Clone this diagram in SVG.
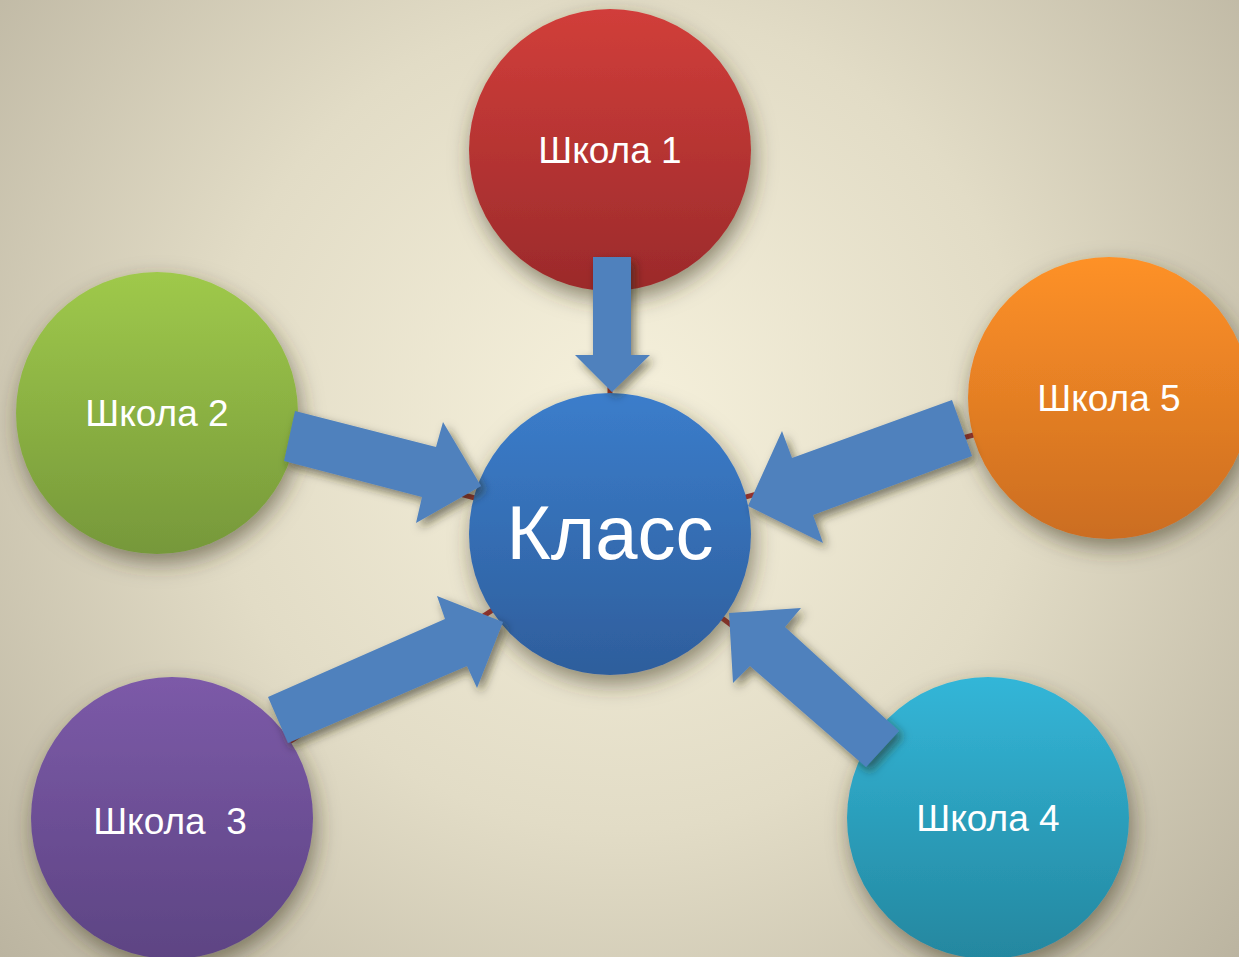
<svg xmlns="http://www.w3.org/2000/svg" width="1239" height="957" viewBox="0 0 1239 957">
<style>
.lbl{font-family:"Liberation Sans",Arial,sans-serif;fill:#ffffff;text-anchor:middle;white-space:pre}
.s{font-size:37px}
.big{font-size:76px}
.arrow{fill:#4f81bd;filter:url(#ash)}
.conn{stroke:#a8332f;stroke-width:5;fill:none}
</style>
<defs>
<radialGradient id="bg" cx="620" cy="420" r="820" gradientUnits="userSpaceOnUse">
<stop offset="0" stop-color="#f6f1dc"/>
<stop offset="0.5" stop-color="#e2dcc6"/>
<stop offset="1" stop-color="#bbb4a0"/>
</radialGradient>
<linearGradient id="gRed" x1="0" y1="0" x2="0" y2="1"><stop offset="0" stop-color="#d13e3a"/><stop offset="1" stop-color="#9b2a2b"/></linearGradient>
<linearGradient id="gGreen" x1="0" y1="0" x2="0" y2="1"><stop offset="0" stop-color="#9fc94b"/><stop offset="1" stop-color="#76983a"/></linearGradient>
<linearGradient id="gPurple" x1="0" y1="0" x2="0" y2="1"><stop offset="0" stop-color="#7c5aa8"/><stop offset="1" stop-color="#5d4483"/></linearGradient>
<linearGradient id="gTeal" x1="0" y1="0" x2="0" y2="1"><stop offset="0" stop-color="#33b6d8"/><stop offset="1" stop-color="#24879f"/></linearGradient>
<linearGradient id="gOrange" x1="0" y1="0" x2="0" y2="1"><stop offset="0" stop-color="#fe9128"/><stop offset="1" stop-color="#cb6d20"/></linearGradient>
<linearGradient id="gBlue" x1="0" y1="0" x2="0" y2="1"><stop offset="0" stop-color="#3b7dcb"/><stop offset="1" stop-color="#2e5e9c"/></linearGradient>
<filter id="csh" x="-30%" y="-30%" width="160%" height="170%">
<feDropShadow dx="3" dy="9" stdDeviation="11" flood-color="#3a3520" flood-opacity="0.55"/>
</filter>
<filter id="ash" x="-30%" y="-30%" width="160%" height="160%">
<feDropShadow dx="4" dy="5" stdDeviation="5" flood-color="#2a2515" flood-opacity="0.55"/>
</filter>
</defs>
<rect x="0" y="0" width="1239" height="957" fill="url(#bg)"/>
<g id="connectors">
<line class="conn" x1="610" y1="534" x2="610" y2="150"/>
<line class="conn" x1="610" y1="534" x2="157" y2="413"/>
<line class="conn" x1="610" y1="534" x2="172" y2="818"/>
<line class="conn" x1="610" y1="534" x2="988" y2="818"/>
<line class="conn" x1="610" y1="534" x2="1109" y2="398"/>
</g>
<g id="n1"><circle cx="610" cy="150" r="141" fill="url(#gRed)" filter="url(#csh)"/><text class="lbl s" x="610" y="163">Школа 1</text></g>
<g id="n2"><circle cx="157" cy="413" r="141" fill="url(#gGreen)" filter="url(#csh)"/><text class="lbl s" x="157" y="426">Школа 2</text></g>
<g id="n3"><circle cx="172" cy="818" r="141" fill="url(#gPurple)" filter="url(#csh)"/><text class="lbl s" x="170" y="834">Школа  3</text></g>
<g id="n4"><circle cx="988" cy="818" r="141" fill="url(#gTeal)" filter="url(#csh)"/><text class="lbl s" x="988" y="831">Школа 4</text></g>
<g id="n5"><circle cx="1109" cy="398" r="141" fill="url(#gOrange)" filter="url(#csh)"/><text class="lbl s" x="1109" y="411">Школа 5</text></g>
<g id="center"><circle cx="610" cy="534" r="141" fill="url(#gBlue)" filter="url(#csh)"/><text class="lbl big" x="610" y="559">Класс</text></g>
<g id="arrows">
<polygon class="arrow" points="593,257 631,257 631,355 650,355 612,392 575,355 593,355"/>
<polygon class="arrow" points="295,411 436,447 443,422 481,486 416,523 422,497 284,461"/>
<polygon class="arrow" points="268,697 445,619 437,596 503,622 477,688 467,666 288,743"/>
<polygon class="arrow" points="729,613 801,608 785,627 899,731 866,767 750,666 733,683"/>
<polygon class="arrow" points="952,400 972,456 813,515 823,543 748,506 782,431 792,458"/>
</g>
</svg>
